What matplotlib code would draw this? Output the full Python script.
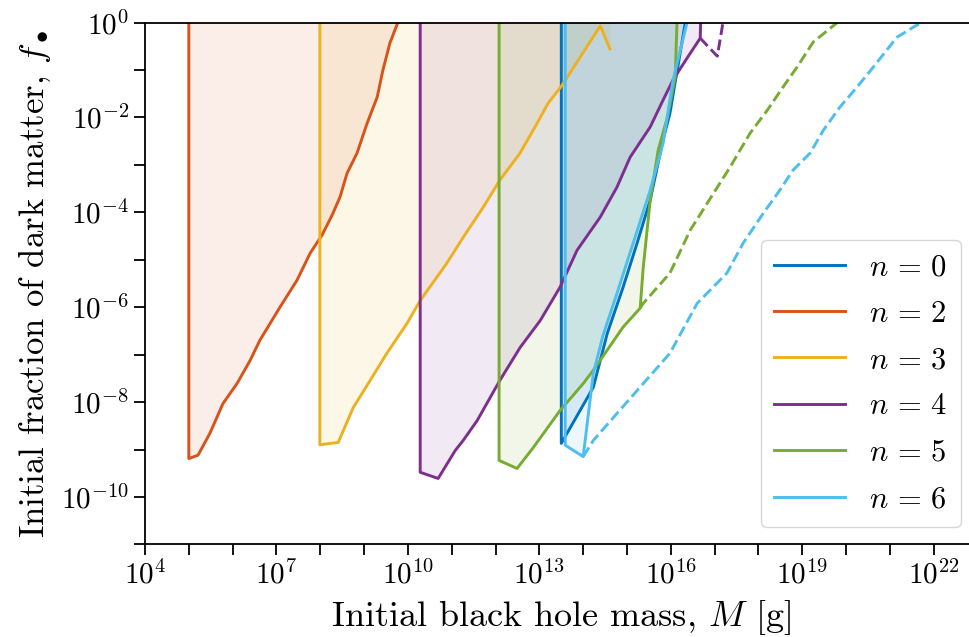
import numpy as np
import matplotlib
matplotlib.use("Agg")
import matplotlib.pyplot as plt

plt.rcParams['font.family'] = 'serif'
plt.rcParams['font.serif'] = ['cmr10']
plt.rcParams['mathtext.fontset'] = 'cm'
plt.rcParams['axes.unicode_minus'] = False
plt.rcParams['axes.formatter.use_mathtext'] = True

# ---- data (log10 values) ----
labels = [r'$n\,=\,0$', r'$n\,=\,2$', r'$n\,=\,3$', r'$n\,=\,4$', r'$n\,=\,5$', r'$n\,=\,6$']
colors = ['#0072BD', '#D95319', '#EDB120', '#7E2F8E', '#77AC30', '#4DBEEE']

# solid boundary curves: log10 M, log10 f  (first point = top of vertical edge)
n0_logM = [13.50, 13.50, 13.63, 14.23, 14.55, 14.91, 15.23, 15.53, 15.82, 15.98, 16.33]
n0_logf = [0.0, -8.87, -8.66, -7.69, -6.55, -5.58, -4.65, -3.74, -2.48, -1.91, 0.0]

n2_logM = [5.00, 5.00, 5.21, 5.48, 5.78, 6.10, 6.40, 6.62, 7.08, 7.47, 7.77, 8.04, 8.27,
           8.45, 8.61, 8.84, 9.07, 9.30, 9.43, 9.59, 9.77]
n2_logf = [0.0, -9.19, -9.12, -8.66, -8.03, -7.61, -7.12, -6.70, -6.00, -5.43, -4.86, -4.48,
           -4.06, -3.68, -3.18, -2.75, -2.12, -1.57, -1.00, -0.43, 0.0]

n3_logM = [7.99, 7.99, 8.41, 8.75, 9.14, 9.52, 9.98, 10.28, 10.89, 11.26, 11.72, 12.10,
           12.56, 12.95, 13.20, 13.52, 13.93, 14.39, 14.61]
n3_logf = [0.0, -8.90, -8.85, -8.12, -7.54, -6.97, -6.34, -5.86, -5.07, -4.53, -3.89, -3.32,
           -2.75, -2.12, -1.70, -1.32, -0.73, -0.07, -0.56]

n4_logM = [10.28, 10.28, 10.69, 11.08, 11.26, 11.58, 12.10, 12.56, 13.02, 13.47, 13.86,
           14.39, 14.77, 15.07, 15.53, 15.82, 16.05, 16.37, 16.67, 16.68]
n4_logf = [0.0, -9.48, -9.61, -9.02, -8.81, -8.39, -7.54, -6.85, -6.28, -5.58, -4.80,
           -4.10, -3.47, -2.84, -2.20, -1.64, -1.21, -0.75, -0.33, 0.0]

n5_logM = [12.08, 12.08, 12.49, 12.86, 13.47, 14.00, 14.23, 14.91, 15.30, 15.37, 15.53,
           15.71, 15.92, 16.10, 16.14]
n5_logf = [0.0, -9.23, -9.40, -8.96, -8.18, -7.61, -7.33, -6.42, -6.02, -5.16, -3.74,
           -2.69, -2.00, -1.15, 0.0]

n6_logM = [13.59, 13.59, 14.00, 14.23, 14.45, 14.77, 15.14, 15.53, 15.82, 16.05, 16.37]
n6_logf = [0.0, -8.91, -9.15, -7.40, -6.60, -5.71, -4.65, -3.53, -2.56, -1.21, 0.0]

# dashed extensions
n4d_logM = [16.67, 17.06, 17.19]
n4d_logf = [-0.33, -0.71, 0.0]

n5d_logM = [15.30, 15.37, 15.98, 16.44, 16.83, 17.35, 17.81, 18.20, 18.56, 18.88, 19.25, 19.80]
n5d_logf = [-6.02, -5.92, -5.28, -4.38, -3.81, -3.05, -2.33, -1.85, -1.36, -0.94, -0.41, 0.0]

n6d_logM = [14.00, 14.23, 14.77, 15.37, 15.98, 16.60, 17.28, 17.65, 18.11, 18.49, 18.79,
            19.18, 19.48, 19.86, 20.25, 20.62, 21.16, 21.62, 21.74]
n6d_logf = [-9.15, -8.81, -8.24, -7.61, -6.97, -5.92, -5.28, -4.65, -4.02, -3.53, -3.11,
            -2.75, -2.27, -1.78, -1.36, -0.94, -0.31, -0.05, 0.0]

solid = [(n0_logM, n0_logf), (n2_logM, n2_logf), (n3_logM, n3_logf),
         (n4_logM, n4_logf), (n5_logM, n5_logf), (n6_logM, n6_logf)]
dashed = {3: (n4d_logM, n4d_logf), 4: (n5d_logM, n5d_logf), 5: (n6d_logM, n6d_logf)}

xtick_exp = list(range(4, 24))
ytick_exp = list(range(-11, 1))

# ---- figure ----
fig = plt.figure(figsize=(9.69, 6.37), dpi=100)
W, H = 969, 637
x0, x1 = 145, 977.6
y_top, y_bot = 22.5, 544.4
ax = fig.add_axes([x0 / W, 1 - y_bot / H, (x1 - x0) / W, (y_bot - y_top) / H])

lw = 2.1
for i, (lm, lf) in enumerate(solid):
    M = 10.0 ** np.array(lm)
    f = 10.0 ** np.array(lf)
    ax.fill_between(M, f, 1.0, color=colors[i], alpha=0.1, linewidth=0)
    ax.plot(M, f, color=colors[i], lw=lw, label=labels[i])
    if i in dashed:
        dm, df = dashed[i]
        ax.plot(10.0 ** np.array(dm), 10.0 ** np.array(df), color=colors[i], lw=lw, ls='--')

ax.set_xscale('log')
ax.set_yscale('log')
ax.set_xlim(1e4, 1e23)
ax.set_ylim(1e-11, 1)

ax.set_xticks([10.0 ** e for e in xtick_exp])
ax.set_xticklabels([r'$10^{%d}$' % e if (e - 4) % 3 == 0 else '' for e in xtick_exp])
ax.set_yticks([10.0 ** e for e in ytick_exp])
ax.set_yticklabels([r'$10^{%d}$' % e if e % 2 == 0 else '' for e in ytick_exp])
ax.minorticks_off()
ax.tick_params(axis='both', which='major', labelsize=21, length=8, width=1.3, direction='out')
ax.spines['right'].set_visible(False)
for s in ['left', 'bottom', 'top']:
    ax.spines[s].set_linewidth(1.3)

ax.set_xlabel(r'Initial black hole mass, $M$ [g]', fontsize=26, labelpad=6)
ax.set_ylabel(r'Initial fraction of dark matter, $f_\bullet$', fontsize=25, labelpad=6)

leg = ax.legend(loc='lower right', bbox_to_anchor=((961 - x0) / (x1 - x0), (y_bot - 527) / (y_bot - y_top)),
                borderaxespad=0, fontsize=22, handlelength=2.3, frameon=True, fancybox=True,
                labelspacing=0.62, handletextpad=0.8, borderpad=0.45)
leg.get_frame().set_edgecolor('#cccccc')

fig.savefig('out.png', dpi=100)
